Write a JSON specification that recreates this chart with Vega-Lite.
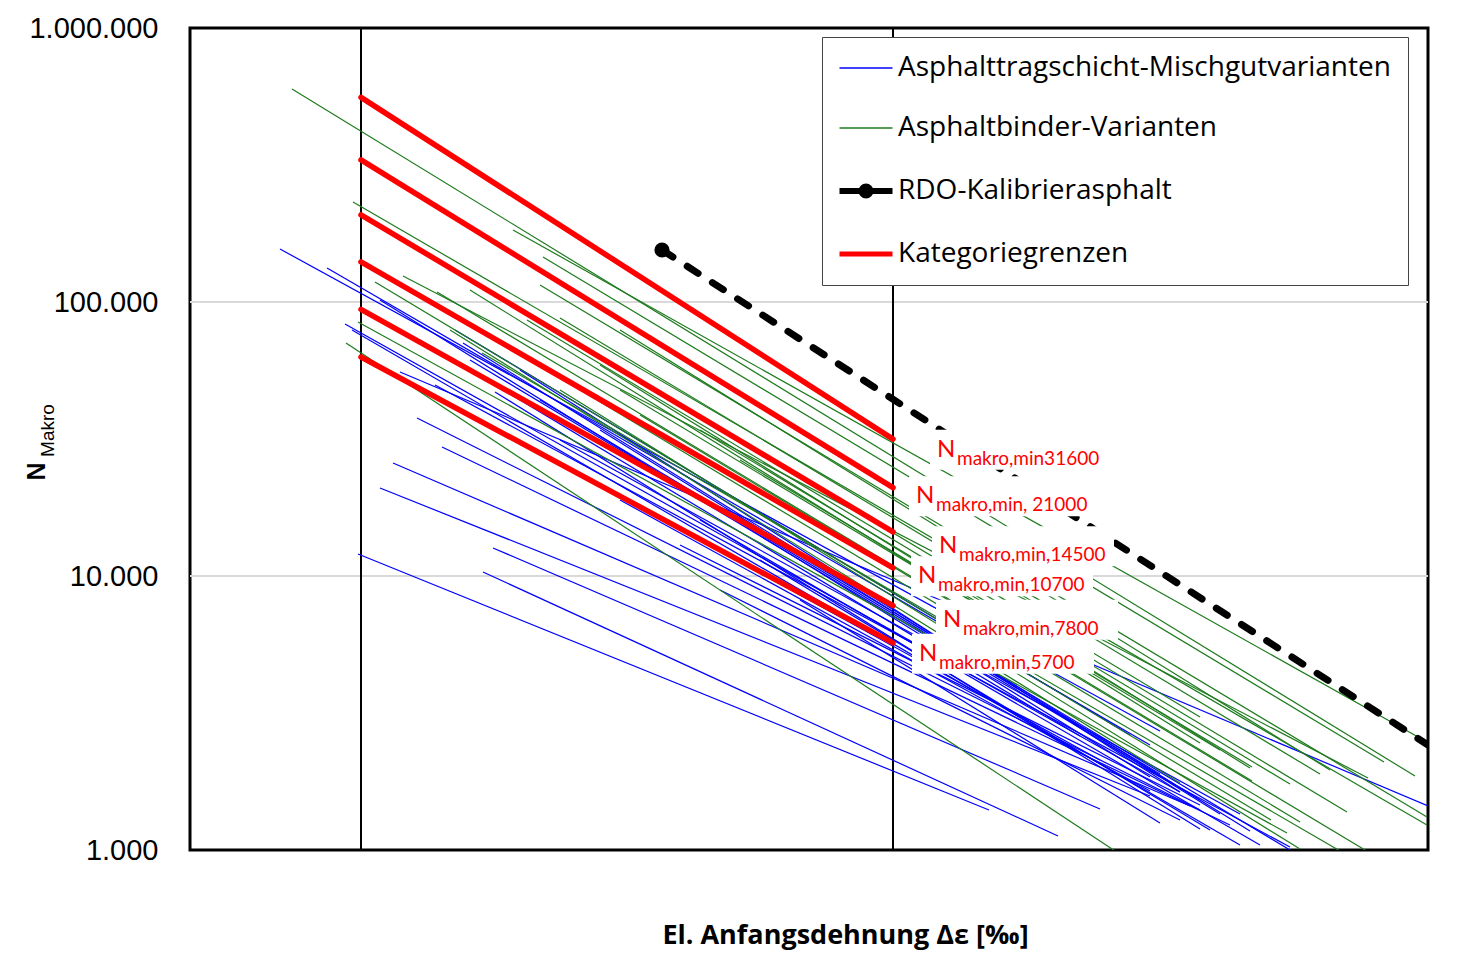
{
  "$schema": "https://vega.github.io/schema/vega-lite/v6.json",
  "width": 1238,
  "height": 822,
  "autosize": {"type": "none"},
  "padding": {"left": 190, "top": 28, "right": 37, "bottom": 107},
  "background": "white",
  "config": {
    "view": {"stroke": "black", "strokeWidth": 3},
    "locale": {"number": {"decimal": ",", "thousands": ".", "grouping": [3], "currency": ["", " €"]}}
  },
  "datasets": {
    "gitter": [
      {"n": 10000, "x": 0, "x2": 123.8},
      {"n": 100000, "x": 0, "x2": 123.8}
    ],
    "senkrechte": [{"x": 17.1}, {"x": 70.3}],
    "varianten": [
      {"id": "b1", "series": "Asphalttragschicht-Mischgutvarianten", "x": 16.8, "n": 12030},
      {"id": "b1", "series": "Asphalttragschicht-Mischgutvarianten", "x": 79.9, "n": 1400},
      {"id": "b2", "series": "Asphalttragschicht-Mischgutvarianten", "x": 29.3, "n": 10340},
      {"id": "b2", "series": "Asphalttragschicht-Mischgutvarianten", "x": 86.8, "n": 1125},
      {"id": "b3", "series": "Asphalttragschicht-Mischgutvarianten", "x": 30.3, "n": 12660},
      {"id": "b3", "series": "Asphalttragschicht-Mischgutvarianten", "x": 91.0, "n": 1412},
      {"id": "b4", "series": "Asphalttragschicht-Mischgutvarianten", "x": 19.0, "n": 20950},
      {"id": "b4", "series": "Asphalttragschicht-Mischgutvarianten", "x": 96.0, "n": 1574},
      {"id": "b5", "series": "Asphalttragschicht-Mischgutvarianten", "x": 20.3, "n": 25840},
      {"id": "b5", "series": "Asphalttragschicht-Mischgutvarianten", "x": 100.0, "n": 1448},
      {"id": "b6", "series": "Asphalttragschicht-Mischgutvarianten", "x": 25.2, "n": 29570},
      {"id": "b6", "series": "Asphalttragschicht-Mischgutvarianten", "x": 104.0, "n": 1234},
      {"id": "b7", "series": "Asphalttragschicht-Mischgutvarianten", "x": 22.7, "n": 37720},
      {"id": "b7", "series": "Asphalttragschicht-Mischgutvarianten", "x": 101.0, "n": 1400},
      {"id": "b8", "series": "Asphalttragschicht-Mischgutvarianten", "x": 9.0, "n": 156100},
      {"id": "b8", "series": "Asphalttragschicht-Mischgutvarianten", "x": 97.0, "n": 2718},
      {"id": "b9", "series": "Asphalttragschicht-Mischgutvarianten", "x": 13.7, "n": 133100},
      {"id": "b9", "series": "Asphalttragschicht-Mischgutvarianten", "x": 96.0, "n": 2417},
      {"id": "b10", "series": "Asphalttragschicht-Mischgutvarianten", "x": 15.5, "n": 83120},
      {"id": "b10", "series": "Asphalttragschicht-Mischgutvarianten", "x": 99.0, "n": 1628},
      {"id": "b11", "series": "Asphalttragschicht-Mischgutvarianten", "x": 16.2, "n": 79030},
      {"id": "b11", "series": "Asphalttragschicht-Mischgutvarianten", "x": 105.0, "n": 1043},
      {"id": "b12", "series": "Asphalttragschicht-Mischgutvarianten", "x": 24.5, "n": 49790},
      {"id": "b12", "series": "Asphalttragschicht-Mischgutvarianten", "x": 110.0, "n": 1025},
      {"id": "b13", "series": "Asphalttragschicht-Mischgutvarianten", "x": 27.3, "n": 70850},
      {"id": "b13", "series": "Asphalttragschicht-Mischgutvarianten", "x": 106.0, "n": 1173},
      {"id": "b14", "series": "Asphalttragschicht-Mischgutvarianten", "x": 30.5, "n": 46940},
      {"id": "b14", "series": "Asphalttragschicht-Mischgutvarianten", "x": 101.0, "n": 1193},
      {"id": "b15", "series": "Asphalttragschicht-Mischgutvarianten", "x": 26.5, "n": 79030},
      {"id": "b15", "series": "Asphalttragschicht-Mischgutvarianten", "x": 94.0, "n": 2628},
      {"id": "b16", "series": "Asphalttragschicht-Mischgutvarianten", "x": 33.0, "n": 56480},
      {"id": "b16", "series": "Asphalttragschicht-Mischgutvarianten", "x": 99.0, "n": 1628},
      {"id": "b17", "series": "Asphalttragschicht-Mischgutvarianten", "x": 21.0, "n": 55520},
      {"id": "b17", "series": "Asphalttragschicht-Mischgutvarianten", "x": 123.8, "n": 1448},
      {"id": "b18", "series": "Asphalttragschicht-Mischgutvarianten", "x": 28.0, "n": 61420},
      {"id": "b18", "series": "Asphalttragschicht-Mischgutvarianten", "x": 97.0, "n": 1894},
      {"id": "b19", "series": "Asphalttragschicht-Mischgutvarianten", "x": 35.0, "n": 43880},
      {"id": "b19", "series": "Asphalttragschicht-Mischgutvarianten", "x": 110.0, "n": 1000},
      {"id": "b20", "series": "Asphalttragschicht-Mischgutvarianten", "x": 41.0, "n": 34100},
      {"id": "b20", "series": "Asphalttragschicht-Mischgutvarianten", "x": 103.0, "n": 1354},
      {"id": "b21", "series": "Asphalttragschicht-Mischgutvarianten", "x": 19.0, "n": 101700},
      {"id": "b21", "series": "Asphalttragschicht-Mischgutvarianten", "x": 96.0, "n": 1847},
      {"id": "b22", "series": "Asphalttragschicht-Mischgutvarianten", "x": 23.0, "n": 72650},
      {"id": "b22", "series": "Asphalttragschicht-Mischgutvarianten", "x": 89.0, "n": 2606},
      {"id": "b23", "series": "Asphalttragschicht-Mischgutvarianten", "x": 37.0, "n": 31360},
      {"id": "b23", "series": "Asphalttragschicht-Mischgutvarianten", "x": 105.0, "n": 1354},
      {"id": "b24", "series": "Asphalttragschicht-Mischgutvarianten", "x": 46.0, "n": 24370},
      {"id": "b24", "series": "Asphalttragschicht-Mischgutvarianten", "x": 101.0, "n": 1522},
      {"id": "b25", "series": "Asphalttragschicht-Mischgutvarianten", "x": 43.0, "n": 18940},
      {"id": "b25", "series": "Asphalttragschicht-Mischgutvarianten", "x": 96.0, "n": 1641},
      {"id": "b26", "series": "Asphalttragschicht-Mischgutvarianten", "x": 31.0, "n": 34100},
      {"id": "b26", "series": "Asphalttragschicht-Mischgutvarianten", "x": 91.0, "n": 2131},
      {"id": "b27", "series": "Asphalttragschicht-Mischgutvarianten", "x": 51.0, "n": 16010},
      {"id": "b27", "series": "Asphalttragschicht-Mischgutvarianten", "x": 107.0, "n": 1043},
      {"id": "b28", "series": "Asphalttragschicht-Mischgutvarianten", "x": 49.0, "n": 12980},
      {"id": "b28", "series": "Asphalttragschicht-Mischgutvarianten", "x": 101.0, "n": 1460},
      {"id": "b29", "series": "Asphalttragschicht-Mischgutvarianten", "x": 57.0, "n": 11440},
      {"id": "b29", "series": "Asphalttragschicht-Mischgutvarianten", "x": 102.0, "n": 1183},
      {"id": "b30", "series": "Asphalttragschicht-Mischgutvarianten", "x": 53.0, "n": 8891},
      {"id": "b30", "series": "Asphalttragschicht-Mischgutvarianten", "x": 99.0, "n": 1287},
      {"id": "b31", "series": "Asphalttragschicht-Mischgutvarianten", "x": 61.0, "n": 8174},
      {"id": "b31", "series": "Asphalttragschicht-Mischgutvarianten", "x": 97.0, "n": 1255},
      {"id": "g1", "series": "Asphaltbinder-Varianten", "x": 10.2, "n": 599000},
      {"id": "g1", "series": "Asphaltbinder-Varianten", "x": 122.5, "n": 1862},
      {"id": "g2", "series": "Asphaltbinder-Varianten", "x": 16.3, "n": 231800},
      {"id": "g2", "series": "Asphaltbinder-Varianten", "x": 123.7, "n": 1234},
      {"id": "g3", "series": "Asphaltbinder-Varianten", "x": 32.3, "n": 183100},
      {"id": "g3", "series": "Asphaltbinder-Varianten", "x": 123.7, "n": 2479},
      {"id": "g4", "series": "Asphaltbinder-Varianten", "x": 35.3, "n": 146000},
      {"id": "g4", "series": "Asphaltbinder-Varianten", "x": 119.4, "n": 2095},
      {"id": "g5", "series": "Asphaltbinder-Varianten", "x": 21.3, "n": 124400},
      {"id": "g5", "series": "Asphaltbinder-Varianten", "x": 117.8, "n": 1831},
      {"id": "g6", "series": "Asphaltbinder-Varianten", "x": 18.5, "n": 118300},
      {"id": "g6", "series": "Asphaltbinder-Varianten", "x": 108.1, "n": 1287},
      {"id": "g7", "series": "Asphaltbinder-Varianten", "x": 16.8, "n": 84530},
      {"id": "g7", "series": "Asphaltbinder-Varianten", "x": 109.7, "n": 1154},
      {"id": "g8", "series": "Asphaltbinder-Varianten", "x": 15.6, "n": 70850},
      {"id": "g8", "series": "Asphaltbinder-Varianten", "x": 92.5, "n": 992},
      {"id": "g9", "series": "Asphaltbinder-Varianten", "x": 33.7, "n": 85970},
      {"id": "g9", "series": "Asphaltbinder-Varianten", "x": 115.7, "n": 1377},
      {"id": "g10", "series": "Asphaltbinder-Varianten", "x": 24.7, "n": 108800},
      {"id": "g10", "series": "Asphaltbinder-Varianten", "x": 106.2, "n": 1786},
      {"id": "g11", "series": "Asphaltbinder-Varianten", "x": 29.2, "n": 65150},
      {"id": "g11", "series": "Asphaltbinder-Varianten", "x": 115.0, "n": 992},
      {"id": "g12", "series": "Asphaltbinder-Varianten", "x": 30.7, "n": 72650},
      {"id": "g12", "series": "Asphaltbinder-Varianten", "x": 111.0, "n": 1266},
      {"id": "g13", "series": "Asphaltbinder-Varianten", "x": 37.0, "n": 87420},
      {"id": "g13", "series": "Asphaltbinder-Varianten", "x": 113.0, "n": 1894},
      {"id": "g14", "series": "Asphaltbinder-Varianten", "x": 39.0, "n": 69670},
      {"id": "g14", "series": "Asphaltbinder-Varianten", "x": 101.0, "n": 3057},
      {"id": "g15", "series": "Asphaltbinder-Varianten", "x": 41.0, "n": 58900},
      {"id": "g15", "series": "Asphaltbinder-Varianten", "x": 106.0, "n": 1992},
      {"id": "g16", "series": "Asphaltbinder-Varianten", "x": 43.0, "n": 47730},
      {"id": "g16", "series": "Asphaltbinder-Varianten", "x": 103.0, "n": 2318},
      {"id": "g17", "series": "Asphaltbinder-Varianten", "x": 26.0, "n": 79030},
      {"id": "g17", "series": "Asphaltbinder-Varianten", "x": 99.0, "n": 1756},
      {"id": "g18", "series": "Asphaltbinder-Varianten", "x": 45.0, "n": 38690},
      {"id": "g18", "series": "Asphaltbinder-Varianten", "x": 117.5, "n": 1000},
      {"id": "g19", "series": "Asphaltbinder-Varianten", "x": 37.0, "n": 47730},
      {"id": "g19", "series": "Asphaltbinder-Varianten", "x": 111.0, "n": 1008},
      {"id": "g20", "series": "Asphaltbinder-Varianten", "x": 51.0, "n": 34100},
      {"id": "g20", "series": "Asphaltbinder-Varianten", "x": 110.0, "n": 1741},
      {"id": "g21", "series": "Asphaltbinder-Varianten", "x": 35.0, "n": 115400},
      {"id": "g21", "series": "Asphaltbinder-Varianten", "x": 123.7, "n": 1320},
      {"id": "g22", "series": "Asphaltbinder-Varianten", "x": 28.0, "n": 110600},
      {"id": "g22", "series": "Asphaltbinder-Varianten", "x": 101.0, "n": 2458},
      {"id": "g23", "series": "Asphaltbinder-Varianten", "x": 43.0, "n": 79030},
      {"id": "g23", "series": "Asphaltbinder-Varianten", "x": 114.0, "n": 1959},
      {"id": "g24", "series": "Asphaltbinder-Varianten", "x": 55.0, "n": 26510},
      {"id": "g24", "series": "Asphaltbinder-Varianten", "x": 106.2, "n": 2009}
    ],
    "kategorien": [
      {"id": "k1", "x": 17.1, "n": 558000}, {"id": "k1", "x": 70.3, "n": 31600},
      {"id": "k2", "x": 17.1, "n": 330000}, {"id": "k2", "x": 70.3, "n": 21000},
      {"id": "k3", "x": 17.1, "n": 208000}, {"id": "k3", "x": 70.3, "n": 14500},
      {"id": "k4", "x": 17.1, "n": 140000}, {"id": "k4", "x": 70.3, "n": 10700},
      {"id": "k5", "x": 17.1, "n": 94000}, {"id": "k5", "x": 70.3, "n": 7800},
      {"id": "k6", "x": 17.1, "n": 63000}, {"id": "k6", "x": 70.3, "n": 5700}
    ],
    "rdo": [
      {"x": 47.2, "n": 154800},
      {"x": 123.8, "n": 2417}
    ],
    "etiketten": [
      {"sub": "makro,min31600", "x": 74.7, "n": 27250},
      {"sub": "makro,min, 21000", "x": 72.6, "n": 18420},
      {"sub": "makro,min,14500", "x": 74.9, "n": 12100},
      {"sub": "makro,min,10700", "x": 72.8, "n": 9406},
      {"sub": "makro,min,7800", "x": 75.3, "n": 6531},
      {"sub": "makro,min,5700", "x": 72.9, "n": 4908}
    ]
  },
  "encoding": {
    "x": {
      "field": "x",
      "type": "quantitative",
      "scale": {"domain": [0, 123.8], "nice": false, "zero": false},
      "axis": {
        "labels": false, "ticks": false, "domain": false, "grid": false,
        "title": "El. Anfangsdehnung Δε [‰]",
        "titleFont": "Open Sans", "titleFontSize": 27, "titleFontWeight": "bold", "titleColor": "black",
        "titleX": 655, "titleY": 85, "titleAlign": "center", "titleBaseline": "middle"
      }
    }
  },
  "resolve": {"axis": {"y": "independent"}},
  "layer": [
    {
      "data": {"name": "gitter"},
      "mark": {"type": "rule", "color": "#d9d9d9", "strokeWidth": 2},
      "encoding": {
        "x2": {"field": "x2"},
        "y": {"field": "n", "type": "quantitative", "scale": {"type": "log", "domain": [1000, 1000000], "nice": false}, "axis": null}
      }
    },
    {
      "data": {"name": "senkrechte"},
      "mark": {"type": "rule", "color": "black", "strokeWidth": 2},
      "encoding": {}
    },
    {
      "data": {"name": "varianten"},
      "mark": {"type": "line", "strokeWidth": 1.2, "clip": true},
      "encoding": {
        "y": {
          "field": "n", "type": "quantitative",
          "scale": {"type": "log", "domain": [1000, 1000000], "nice": false},
          "axis": {
            "orient": "left",
            "values": [1000, 10000, 100000, 1000000],
            "format": ",",
            "labelFont": "Liberation Sans", "labelFontSize": 29, "labelColor": "black",
            "labelPadding": 32, "labelFlush": false, "labelOverlap": false,
            "ticks": false, "domain": false, "grid": false,
            "title": "N",
            "titleFont": "Liberation Sans", "titleFontSize": 25, "titleFontWeight": "bold", "titleColor": "black",
            "titleAngle": 270, "titleX": -154, "titleY": 443, "titleAlign": "center", "titleBaseline": "middle"
          }
        },
        "detail": {"field": "id"},
        "color": {
          "field": "series", "type": "nominal",
          "scale": {
            "domain": ["Asphalttragschicht-Mischgutvarianten", "Asphaltbinder-Varianten", "RDO-Kalibrierasphalt", "Kategoriegrenzen"],
            "range": ["#0000ff", "#1e7b1e", "#000000", "#ff0000"]
          },
          "legend": {
            "orient": "none", "legendX": 632, "legendY": 9,
            "title": null,
            "labelFont": "Open Sans", "labelFontSize": 28, "labelColor": "black", "labelLimit": 0, "labelOffset": 18,
            "symbolType": "stroke", "symbolSize": 2809, "symbolOffset": 13,
            "padding": 17, "rowPadding": 32,
            "strokeColor": "#444444", "fillColor": "white",
            "encode": {
              "symbols": {
                "update": {
                  "strokeWidth": {"signal": "datum.value === 'RDO-Kalibrierasphalt' ? 6 : datum.value === 'Kategoriegrenzen' ? 5 : 1.3"},
                  "shape": {"signal": "datum.value === 'RDO-Kalibrierasphalt' ? 'M-1,0H1M0.17,0A0.17,0.17,0,1,1,-0.17,0A0.17,0.17,0,1,1,0.17,0Z' : 'M-1,0H1'"},
                  "fill": {"signal": "datum.value === 'RDO-Kalibrierasphalt' ? 'black' : 'transparent'"}
                }
              }
            }
          }
        }
      }
    },
    {
      "data": {"name": "kategorien"},
      "mark": {"type": "line", "color": "#ff0000", "strokeWidth": 5.5, "strokeCap": "round", "clip": true},
      "encoding": {
        "y": {
          "field": "n", "type": "quantitative",
          "scale": {"type": "log", "domain": [1000, 1000000], "nice": false},
          "axis": {
            "orient": "left",
            "labels": false, "ticks": false, "domain": false, "grid": false,
            "title": "Makro",
            "titleFont": "Liberation Sans", "titleFontSize": 19, "titleFontWeight": "normal", "titleColor": "black",
            "titleAngle": 270, "titleX": -143, "titleY": 402, "titleAlign": "center", "titleBaseline": "middle"
          }
        },
        "detail": {"field": "id"}
      }
    },
    {
      "data": {"name": "rdo"},
      "mark": {"type": "line", "color": "black", "strokeWidth": 7, "strokeDash": [13, 17], "strokeCap": "round", "clip": true},
      "encoding": {
        "y": {"field": "n", "type": "quantitative", "scale": {"type": "log", "domain": [1000, 1000000], "nice": false}, "axis": null}
      }
    },
    {
      "data": {"name": "rdo"},
      "transform": [{"filter": "datum.x < 100"}],
      "mark": {"type": "point", "filled": true, "color": "black", "size": 230, "opacity": 1},
      "encoding": {
        "y": {"field": "n", "type": "quantitative", "scale": {"type": "log", "domain": [1000, 1000000], "nice": false}, "axis": null}
      }
    },
    {
      "data": {"name": "etiketten"},
      "mark": {"type": "point", "shape": "M-1,-0.22H1V0.22H-1Z", "size": 33124, "filled": true, "color": "white", "opacity": 1, "strokeWidth": 0, "xOffset": 84, "yOffset": -7},
      "encoding": {
        "y": {"field": "n", "type": "quantitative", "scale": {"type": "log", "domain": [1000, 1000000], "nice": false}, "axis": null}
      }
    },
    {
      "data": {"name": "etiketten"},
      "mark": {"type": "text", "text": "N", "font": "Lato", "fontSize": 24, "color": "#ff0000", "align": "left", "baseline": "alphabetic"},
      "encoding": {
        "y": {"field": "n", "type": "quantitative", "scale": {"type": "log", "domain": [1000, 1000000], "nice": false}, "axis": null}
      }
    },
    {
      "data": {"name": "etiketten"},
      "mark": {"type": "text", "font": "Lato", "fontSize": 19, "color": "#ff0000", "align": "left", "baseline": "alphabetic", "dx": 20, "dy": 8},
      "encoding": {
        "y": {"field": "n", "type": "quantitative", "scale": {"type": "log", "domain": [1000, 1000000], "nice": false}, "axis": null},
        "text": {"field": "sub"}
      }
    }
  ]
}
